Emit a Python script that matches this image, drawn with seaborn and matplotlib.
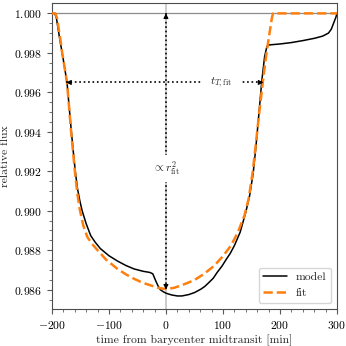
import matplotlib
matplotlib.use('Agg')
import matplotlib.pyplot as plt
import pandas as pd
import seaborn as sns

# Light curve values
model_t = [-200, -195, -192, -189, -186, -182, -178, -173.5, -170, -166, -162, -159,
           -155, -151, -147, -140, -132, -124, -115, -100, -85, -70, -56, -40, -28,
           -23, -18, -14, -10, -5, 0, 10, 20, 28, 40, 50, 61, 68, 75, 83, 90, 98, 105,
           113, 120, 130, 140, 147, 153, 158, 163, 168, 173, 177, 180.5, 200, 220, 240,
           261, 275, 285, 290, 294, 298, 300]
model_flux = [1.0, 1.0, 0.99975, 0.9992, 0.99865, 0.998, 0.9973, 0.9965, 0.99535, 0.99405,
              0.99285, 0.992, 0.9911, 0.9905, 0.99, 0.98935, 0.98874, 0.9884, 0.98808,
              0.98772, 0.98745, 0.98722, 0.98705, 0.98693, 0.98687, 0.9868, 0.98645,
              0.9862, 0.986, 0.9859, 0.98582, 0.98573, 0.98568, 0.98568, 0.98575,
              0.98585, 0.98602, 0.98616, 0.98635, 0.98658, 0.98688, 0.98718, 0.9875,
              0.98785, 0.98823, 0.9889, 0.98992, 0.9908, 0.9919, 0.9933, 0.9949, 0.99655,
              0.9978, 0.99832, 0.9984, 0.99845, 0.99852, 0.99862, 0.99874, 0.99885, 0.999,
              0.9992, 0.9995, 0.9998, 1.0]

fit_t = [-200, -194, -191, -188, -185, -182, -178, -173.5, -170, -166, -162, -159, -155,
         -151, -145, -138, -130, -120, -105, -85, -70, -56, -40, -26, -12, 0, 14, 30, 49,
         67, 85, 100, 114, 126, 137.6, 145, 152, 157, 162, 167, 170, 175, 179, 183, 186,
         188, 300]
fit_flux = [1.0, 1.0, 0.99975, 0.9992, 0.99865, 0.998, 0.9973, 0.9965, 0.9953, 0.9939,
            0.9927, 0.9918, 0.9908, 0.99005, 0.98925, 0.98868, 0.98833, 0.988, 0.98752,
            0.98705, 0.98677, 0.98655, 0.98634, 0.98621, 0.98608, 0.98603, 0.98609,
            0.98625, 0.98647, 0.9868, 0.98722, 0.9877, 0.98823, 0.9889, 0.98975, 0.9906,
            0.99193, 0.9932, 0.99455, 0.9958, 0.99655, 0.9977, 0.9985, 0.99925, 0.9998,
            1.0, 1.0]

# annotation anchors
t_T_start, t_T_end, t_T_level = -175, 171, 0.9965
depth_top, depth_bottom = 1.0, 0.986

sns.set_style('ticks')
plt.rcParams['font.family'] = ['cmr10', 'DejaVu Serif']
plt.rcParams['mathtext.fontset'] = 'cm'
plt.rcParams['axes.formatter.use_mathtext'] = True
fs = 8.4
plt.rcParams['font.size'] = fs

fig = plt.figure(figsize=(3.46, 3.46), dpi=100)
ax = fig.add_axes([0.150, 0.107, 0.824, 0.884])

ax.axhline(1.0, color='0.55', lw=0.9, zorder=1)
ax.axvline(0, color='0.8', lw=1.4, zorder=1)

model = pd.DataFrame({'t': model_t, 'flux': model_flux})
fit = pd.DataFrame({'t': fit_t, 'flux': fit_flux})
sns.lineplot(data=model, x='t', y='flux', ax=ax, color='k', lw=1.1, label='model', zorder=3)
sns.lineplot(data=fit, x='t', y='flux', ax=ax, color='#ff7f0e', lw=1.8, ls='--',
             label='fit', zorder=4)

# dotted double arrows
ax.plot([t_T_start, t_T_end], [t_T_level, t_T_level], color='k', lw=1.2, ls=':', zorder=5)
ax.plot([0, 0], [depth_top, depth_bottom], color='k', lw=1.2, ls=':', zorder=5)
head = dict(arrowstyle='-|>', color='k', lw=0.8, mutation_scale=7, shrinkA=0, shrinkB=0)
ax.annotate('', xy=(t_T_start, t_T_level), xytext=(t_T_start + 6, t_T_level), arrowprops=head, zorder=6)
ax.annotate('', xy=(t_T_end, t_T_level), xytext=(t_T_end - 6, t_T_level), arrowprops=head, zorder=6)
ax.annotate('', xy=(0, depth_top), xytext=(0, depth_top - 0.0002), arrowprops=head, zorder=6)
ax.annotate('', xy=(0, depth_bottom), xytext=(0, depth_bottom + 0.0002), arrowprops=head, zorder=6)

ax.text(97, t_T_level, r'$t_{T,\mathrm{fit}}$', ha='center', va='center', fontsize=fs, zorder=7,
        bbox=dict(boxstyle='square,pad=0.7', fc='white', ec='none'))
ax.text(0, 0.99215, r'$\propto r_{\mathrm{fit}}^2$', ha='center', va='center', fontsize=fs, zorder=7,
        bbox=dict(boxstyle='square,pad=0.4', fc='white', ec='none'))

ax.set_xlim(-200, 300)
ax.set_ylim(0.98502, 1.00052)
ax.set_xticks([-200, -100, 0, 100, 200, 300])
ax.set_yticks([0.986, 0.988, 0.990, 0.992, 0.994, 0.996, 0.998, 1.000])
ax.set_xticks(range(-200, 301, 20), minor=True)
ax.set_yticks([0.9855 + 0.0005 * i for i in range(30)], minor=True)
ax.tick_params(which='major', direction='out', length=3.5, width=0.8, colors='0.35',
               labelcolor='k', labelsize=fs)
ax.tick_params(which='minor', direction='out', length=2, width=0.6, colors='0.35')
for s in ax.spines.values():
    s.set_color('0.3')
    s.set_linewidth(0.8)

ax.set_xlabel('time from barycenter midtransit [min]', fontsize=fs, labelpad=3)
ax.set_ylabel('relative flux', fontsize=fs, labelpad=3)
ax.legend(loc='lower right', fontsize=fs, frameon=True, edgecolor='0.8', fancybox=True,
          handlelength=2.0)

fig.savefig('out.png', dpi=100)
